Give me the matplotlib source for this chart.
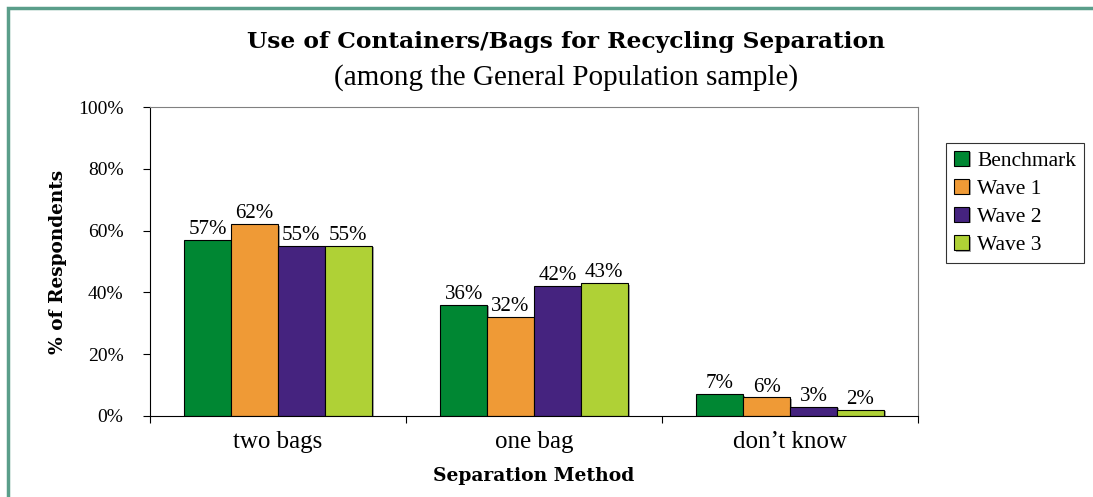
import numpy as np
import matplotlib.pyplot as plt
import matplotlib.patheffects as pe
from matplotlib.patches import Rectangle

categories = ['two bags', 'one bag', 'don\u2019t know']
series = ['Benchmark', 'Wave 1', 'Wave 2', 'Wave 3']
benchmark = [57, 36, 7]
wave1 = [62, 32, 6]
wave2 = [55, 42, 3]
wave3 = [55, 43, 2]
colors = ['#008733', '#ef9a36', '#45237f', '#afd136']

values = [benchmark, wave1, wave2, wave3]

fig = plt.figure(figsize=(10.93, 4.97), dpi=100)
# green page frame
fig.patches.append(Rectangle((0.0075, -0.1), 1.1, 1.084, transform=fig.transFigure,
                             fill=False, edgecolor='#5a9e8a', linewidth=2.5))
ax = fig.add_axes([0.1372, 0.163, 0.7028, 0.6217])

x = np.arange(len(categories))
w = 0.183
shadow = [pe.SimplePatchShadow(offset=(1.5, -1), shadow_rgbFace='gray', alpha=0.7), pe.Normal()]
for i, (name, vals) in enumerate(zip(series, values)):
    pos = x + (i - 1.5) * w
    bars = ax.bar(pos, vals, w, color=colors[i], edgecolor='black', linewidth=0.8,
                  label=name, zorder=2)
    for b in bars:
        b.set_path_effects(shadow)
    for p, v in zip(pos, vals):
        ax.text(p, v + 0.3, '%d%%' % v, ha='center', va='bottom',
                fontsize=15, family='Liberation Serif')

ax.set_xlim(-0.5, 2.5)
ax.set_ylim(0, 100)
ax.set_yticks(np.arange(0, 101, 20))
ax.set_yticklabels(['%d%%' % t for t in range(0, 101, 20)],
                   family='Liberation Serif', fontsize=14)
ax.set_xticks([-0.5, 0.5, 1.5, 2.5])
ax.set_xticklabels([])
ax.set_xticks(x, minor=True)
ax.set_xticklabels(categories, minor=True, family='Liberation Serif', fontsize=18)
ax.tick_params(axis='x', which='minor', length=0, pad=11)
ax.tick_params(axis='both', which='major', length=5, direction='out', pad=14)
for s in ax.spines.values():
    s.set_color('#808080')
ax.spines['left'].set_color('black')
ax.spines['bottom'].set_color('black')

ax.set_ylabel('% of Respondents', family='DejaVu Serif', fontweight='bold',
              fontsize=13.3, labelpad=8)
ax.set_xlabel('Separation Method', family='DejaVu Serif', fontweight='bold',
              fontsize=13.5, labelpad=10)

fig.text(0.518, 0.915, 'Use of Containers/Bags for Recycling Separation',
         ha='center', va='center', family='DejaVu Serif', fontweight='bold',
         fontsize=16.8)
fig.text(0.518, 0.843, '(among the General Population sample)',
         ha='center', va='center', family='Liberation Serif', fontsize=21)

leg = ax.legend(loc='upper left', bbox_to_anchor=(1.0365, 0.8835), borderaxespad=0,
                frameon=True, fancybox=False, edgecolor='black',
                prop={'family': 'Liberation Serif', 'size': 15.5},
                handlelength=0.7, handleheight=0.7, handletextpad=0.4,
                labelspacing=0.38, borderpad=0.35)
leg.get_frame().set_linewidth(0.8)

plt.savefig('out.png', dpi=100)
